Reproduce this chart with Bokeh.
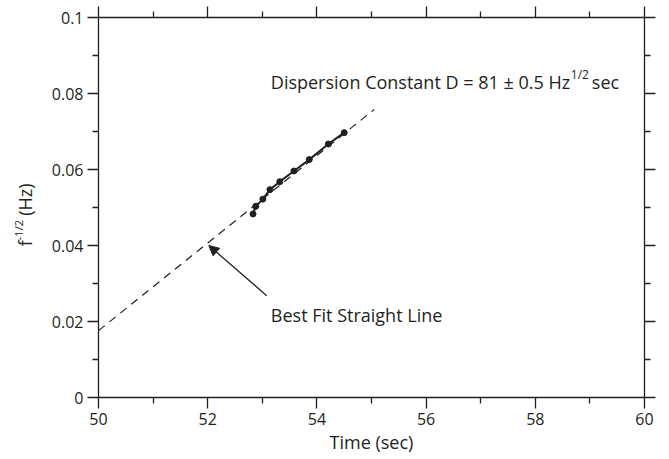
import math
from bokeh.plotting import figure
from bokeh.layouts import row
from bokeh.models import (LinearAxis, FixedTicker, CustomJSTickFormatter, Label, Arrow,
                          NormalHead, ColumnDataSource, Range1d)
from bokeh.core.properties import value
from bokeh.embed import file_html
from bokeh.resources import INLINE

# ---- data ----
time_sec = [52.83, 52.88, 53.01, 53.14, 53.32, 53.58, 53.86, 54.21, 54.50]
f_inv_sqrt = [0.0483, 0.0503, 0.0522, 0.0547, 0.0568, 0.0596, 0.0626, 0.0667, 0.0697]
fit_time = [50.0, 55.05]
fit_value = [0.0176, 0.0758]

x_major = [50, 52, 54, 56, 58, 60]
x_minor = [51, 53, 55, 57, 59]
y_major = [0, 0.02, 0.04, 0.06, 0.08, 0.1]
y_minor = [0.01, 0.03, 0.05, 0.07, 0.09]

# y-axis title pieces
ylab_text = ["f", "-1/2", "(Hz)"]
ylab_pos = [0.0398, 0.0414, 0.0478]
ylab_x = [0.60, 0.44, 0.60]
ylab_size = ["18px", "11px", "18px"]

FONT = "Open Sans"
INK = "#231f20"

yr = Range1d(0, 0.1)
p = figure(frame_width=546, frame_height=380, x_range=(50, 60), y_range=yr,
           output_backend="svg", toolbar_location=None,
           x_axis_location=None, y_axis_location=None,
           min_border_left=58, min_border_right=17, min_border_top=17, min_border_bottom=55)
p.grid.visible = False
p.outline_line_color = None

fmt_y = CustomJSTickFormatter(code="return String(Math.round(tick*100)/100)")
fmt_blank = CustomJSTickFormatter(code="return ''")


def make_axis(ticks, minor, labelled, label=None, fmt=None):
    ax = LinearAxis(ticker=FixedTicker(ticks=ticks, minor_ticks=minor))
    ax.axis_line_color = INK
    ax.axis_line_width = 1.3
    ax.major_tick_line_color = INK
    ax.minor_tick_line_color = INK
    ax.major_tick_line_width = 1.3
    ax.minor_tick_line_width = 1.3
    ax.major_tick_in = 0
    ax.minor_tick_in = 0
    ax.major_tick_out = 11
    ax.minor_tick_out = 6
    if labelled:
        ax.major_label_text_font = FONT
        ax.major_label_text_font_size = "16px"
        ax.major_label_text_color = INK
        ax.major_label_standoff = 4
        if fmt is not None:
            ax.formatter = fmt
        if label:
            ax.axis_label = label
            ax.axis_label_text_font = FONT
            ax.axis_label_text_font_size = "18px"
            ax.axis_label_text_font_style = "normal"
            ax.axis_label_text_color = INK
            ax.axis_label_standoff = 2
    else:
        ax.formatter = fmt_blank
        ax.major_label_standoff = 0
    return ax


p.add_layout(make_axis(x_major, x_minor, True, "Time (sec)"), "below")
p.add_layout(make_axis(y_major, y_minor, True, None, fmt_y), "left")
p.add_layout(make_axis(x_major, x_minor, False), "above")
p.add_layout(make_axis(y_major, y_minor, False), "right")

# best-fit dashed line
p.line(fit_time, fit_value, line_color=INK, line_width=1.2, line_dash="8 6")

# data
src = ColumnDataSource(dict(t=time_sec, f=f_inv_sqrt))
p.line("t", "f", source=src, line_color=INK, line_width=2)
p.scatter("t", "f", source=src, size=6, fill_color=INK, line_color=INK)

# annotation text
TX, TY = 53.156, 0.0830
p.add_layout(Label(x=TX, y=TY, text="Dispersion Constant  D = 81 ± 0.5 Hz",
                   text_font=FONT, text_font_size="18px", text_color=INK,
                   text_baseline="alphabetic"))
p.add_layout(Label(x=TX, y=TY, x_offset=300, y_offset=8, text="1/2",
                   text_font=FONT, text_font_size="12px", text_color=INK,
                   text_baseline="alphabetic"))
p.add_layout(Label(x=TX, y=TY, x_offset=321, text="sec",
                   text_font=FONT, text_font_size="18px", text_color=INK,
                   text_baseline="alphabetic"))

p.add_layout(Label(x=TX, y=0.0217, text="Best Fit Straight Line",
                   text_font=FONT, text_font_size="18px", text_color=INK,
                   text_baseline="alphabetic"))
p.add_layout(Arrow(x_start=53.08, y_start=0.0268, x_end=52.02, y_end=0.0400,
                   line_color=INK, line_width=1.3,
                   end=NormalHead(size=10, fill_color=INK, line_color=INK)))

# narrow panel holding the rotated y-axis title
lf = figure(frame_width=40, frame_height=380, x_range=(0, 1), y_range=yr,
            output_backend="svg", toolbar_location=None,
            x_axis_location=None, y_axis_location=None,
            min_border_left=0, min_border_right=0, min_border_top=17, min_border_bottom=55)
lf.grid.visible = False
lf.outline_line_color = None
lsrc = ColumnDataSource(dict(x=ylab_x, y=ylab_pos, t=ylab_text, s=ylab_size))
lf.text("x", "y", text="t", source=lsrc, angle=math.pi / 2, text_font=value(FONT),
        text_font_size="s", text_color=INK, text_baseline="alphabetic", text_align="left")

layout = row(lf, p)
open("out.html", "w").write(file_html(layout, INLINE))
